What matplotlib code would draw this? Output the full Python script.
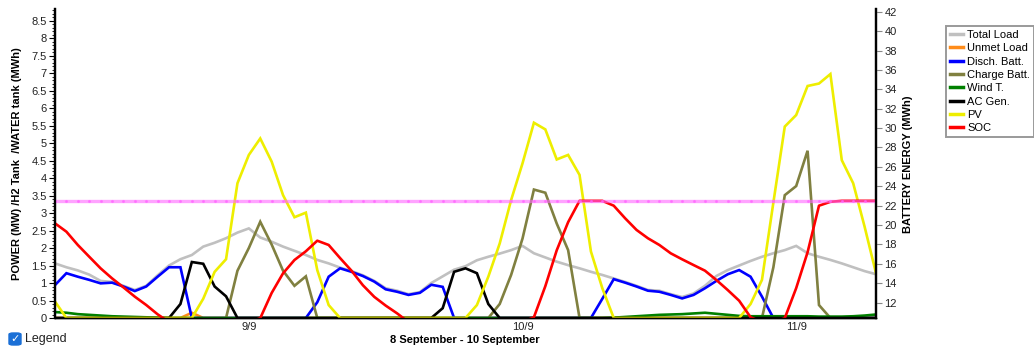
import matplotlib
matplotlib.use('Agg')
import matplotlib.pyplot as plt
from matplotlib.ticker import MultipleLocator, FuncFormatter
from matplotlib.patches import FancyBboxPatch
from matplotlib.lines import Line2D

plt.rcParams['font.family'] = ['Liberation Sans', 'DejaVu Sans']

# ---------------- data (hourly, 8 Sep 07:00 -> 11 Sep 07:00) ----------------
hours = list(range(73))
tick_pos = [17, 41, 65]
tick_labels = ['9/9', '10/9', '11/9']

total_load = [1.56, 1.45, 1.36, 1.24, 1.06, 1.03, 0.92, 0.80, 0.92, 1.22,
              1.50, 1.68, 1.80, 2.04, 2.15, 2.28, 2.44, 2.56, 2.30, 2.18,
              2.04, 1.92, 1.80, 1.66, 1.56, 1.44, 1.34, 1.22, 1.06, 0.85,
              0.78, 0.68, 0.74, 1.00, 1.19, 1.38, 1.48, 1.65, 1.75, 1.84,
              1.94, 2.06, 1.85, 1.73, 1.61, 1.51, 1.42, 1.32, 1.23, 1.13,
              1.03, 0.92, 0.80, 0.78, 0.68, 0.60, 0.70, 0.92, 1.20, 1.37,
              1.50, 1.63, 1.75, 1.85, 1.94, 2.06, 1.85, 1.75, 1.66, 1.56,
              1.45, 1.34, 1.25]
unmet_load = [0.0] * 12 + [0.15] + [0.0] * 60
disch_batt = [0.94, 1.28, 1.18, 1.09, 0.99, 1.01, 0.90, 0.77, 0.90, 1.18,
              1.45, 1.45, 0, 0, 0, 0, 0, 0, 0, 0,
              0, 0, 0, 0.45, 1.18, 1.42, 1.32, 1.20, 1.04, 0.82,
              0.75, 0.66, 0.72, 0.95, 0.89, 0, 0, 0, 0, 0,
              0, 0, 0, 0, 0, 0, 0, 0, 0.55, 1.11,
              1.01, 0.90, 0.78, 0.75, 0.66, 0.56, 0.66, 0.85, 1.06, 1.25,
              1.37, 1.18, 0.61, 0, 0, 0, 0, 0, 0, 0,
              0, 0, 0]
charge_batt = [0] * 16 + [1.35, 2.00, 2.75, 2.10, 1.35, 0.92, 1.19] + [0] * 16 + \
              [0.40, 1.23, 2.27, 3.67, 3.58, 2.70, 1.94] + [0] * 17 + \
              [1.45, 3.51, 3.77, 4.78, 0.37, 0, 0, 0, 0, 0]
wind = [0.17, 0.15, 0.11, 0.09, 0.07, 0.05, 0.04, 0.03, 0.02, 0.01] + [0] * 39 + \
       [0.01, 0.03, 0.05, 0.07, 0.09, 0.10, 0.11, 0.13, 0.15, 0.12, 0.09,
        0.06, 0.05, 0.05, 0.05, 0.05, 0.05, 0.05, 0.04, 0.04, 0.04, 0.05, 0.07, 0.10]
ac_gen = [0] * 11 + [0.40, 1.60, 1.55, 0.90, 0.62] + [0] * 18 + \
         [0.28, 1.32, 1.42, 1.28, 0.40] + [0] * 34
pv = [0.47] + [0] * 12 + [0.55, 1.32, 1.68, 3.85, 4.66, 5.13, 4.47, 3.51, 2.88, 3.01, 1.37, 0.37] + \
     [0] * 12 + [0.37, 1.18, 2.13, 3.37, 4.42, 5.58, 5.39, 4.53, 4.66, 4.09, 1.90, 0.85] + \
     [0] * 12 + [0.40, 1.09, 3.30, 5.47, 5.80, 6.63, 6.70, 6.97, 4.51, 3.85, 2.61, 1.28]
soc = [20.18, 19.32, 17.95, 16.74, 15.54, 14.51, 13.58, 12.62, 11.76, 10.80,
       10.0, 10.0, 10.0, 10.0, 10.0, 10.0, 10.0, 10.0, 10.40, 13.0,
       15.03, 16.40, 17.30, 18.39, 17.95, 16.60, 15.30, 13.80, 12.60, 11.70,
       10.90, 10.0, 10.0, 10.0, 10.0, 10.0, 10.0, 10.0, 10.0, 10.0,
       10.0, 10.0, 10.50, 13.70, 17.40, 20.30, 22.50, 22.50, 22.50, 22.00,
       20.70, 19.50, 18.64, 17.95, 17.09, 16.47, 15.88, 15.30, 14.34, 13.30,
       12.20, 10.50, 10.0, 10.0, 10.40, 13.50, 17.20, 22.00, 22.40, 22.50,
       22.50, 22.50, 22.50]
soc_max = [22.5] * 73

series = [
    ('Total Load', total_load, '#c0c0c0'),
    ('Unmet Load', unmet_load, '#ff8c1a'),
    ('Disch. Batt.', disch_batt, '#0000ff'),
    ('Charge Batt.', charge_batt, '#808040'),
    ('Wind T.', wind, '#008000'),
    ('AC Gen.', ac_gen, '#000000'),
    ('PV', pv, '#eeee00'),
]

# ---------------- figure ----------------
W, H = 1034, 354
fig = plt.figure(figsize=(W / 100, H / 100), dpi=100)
x0, x1, ytop, ybot = 55, 876, 9, 318
ax = fig.add_axes([x0 / W, 1 - ybot / H, (x1 - x0) / W, (ybot - ytop) / H])
ax2 = ax.twinx()

handles = []
for name, vals, col in series:
    ln, = ax.plot(hours, vals, color=col, lw=1.9, solid_joinstyle='miter', label=name)
    handles.append(ln)

ln_soc, = ax2.plot(hours, soc, color='#ff0000', lw=1.9, label='SOC')
handles.append(ln_soc)
ax2.plot(hours, soc_max, color='#ff66ff', lw=2.4, alpha=0.6,
         marker='.', markersize=2.5, markevery=1)

ax.set_xlim(0, 72)
ax.set_ylim(0, 8.83)
ax2.set_ylim(10.42, 42.28)

ax.set_xticks(tick_pos)
ax.set_xticklabels(tick_labels)
ax.tick_params(axis='x', length=0, pad=3, labelsize=8, labelcolor='#222222')

ax.yaxis.set_major_locator(MultipleLocator(0.5))
ax.yaxis.set_minor_locator(MultipleLocator(0.1))
ax.yaxis.set_major_formatter(FuncFormatter(lambda v, p: f'{v:g}'))
ax.tick_params(axis='y', which='major', length=4, width=0.8, labelsize=8,
               labelcolor='#222222', pad=2)
ax.tick_params(axis='y', which='minor', length=2, width=0.6)

ax2.yaxis.set_major_locator(MultipleLocator(2))
ax2.set_yticks(list(range(12, 43, 2)))
ax2.tick_params(axis='y', which='major', length=4, width=0.8, labelsize=8,
                labelcolor='#222222', pad=2, colors='#888888')
ax2.tick_params(axis='y', labelcolor='#222222')

for a in (ax, ax2):
    a.spines['top'].set_visible(False)
    a.spines['left'].set_linewidth(1.6)
    a.spines['right'].set_linewidth(1.6)
    a.spines['bottom'].set_linewidth(1.0)
    a.spines['left'].set_color('black')
    a.spines['right'].set_color('black')
    a.patch.set_visible(False)

fig.text(17 / W, 1 - 164 / H, 'POWER (MW) /H2 Tank  /WATER tank (MWh)',
         rotation=90, ha='center', va='center', fontsize=8, fontweight='bold')
fig.text(908 / W, 1 - 164 / H, 'BATTERY ENERGY (MWh)',
         rotation=90, ha='center', va='center', fontsize=8, fontweight='bold')
fig.text(465 / W, 1 - 340 / H, '8 September - 10 September',
         ha='center', va='center', fontsize=8, fontweight='bold')

leg_handles = [Line2D([], [], color=h.get_color(), lw=2.5) for h in handles]
leg = fig.legend(leg_handles, [h.get_label() for h in handles],
                 loc='upper left', bbox_to_anchor=(946 / W, 1 - 26 / H),
                 fontsize=8, frameon=True, fancybox=False, borderpad=0.35,
                 labelspacing=0.3, handlelength=1.15, handletextpad=0.4,
                 borderaxespad=0)
leg.get_frame().set_edgecolor('#808080')
leg.get_frame().set_linewidth(1.4)

# "Legend" checkbox
cb = FancyBboxPatch((9 / W, 1 - 345 / H), 12 / W, 12 / H,
                    boxstyle='round,pad=0,rounding_size=0.004',
                    transform=fig.transFigure, facecolor='#1a6fd6', edgecolor='#1a6fd6')
fig.add_artist(cb)
fig.text(15 / W, 1 - 339 / H, '\u2713', ha='center', va='center', fontsize=8,
         color='white', fontweight='bold', family=['DejaVu Sans'])
fig.text(25 / W, 1 - 339 / H, 'Legend', ha='left', va='center', fontsize=9,
         color='#222222')

fig.savefig('out.png', dpi=100)
